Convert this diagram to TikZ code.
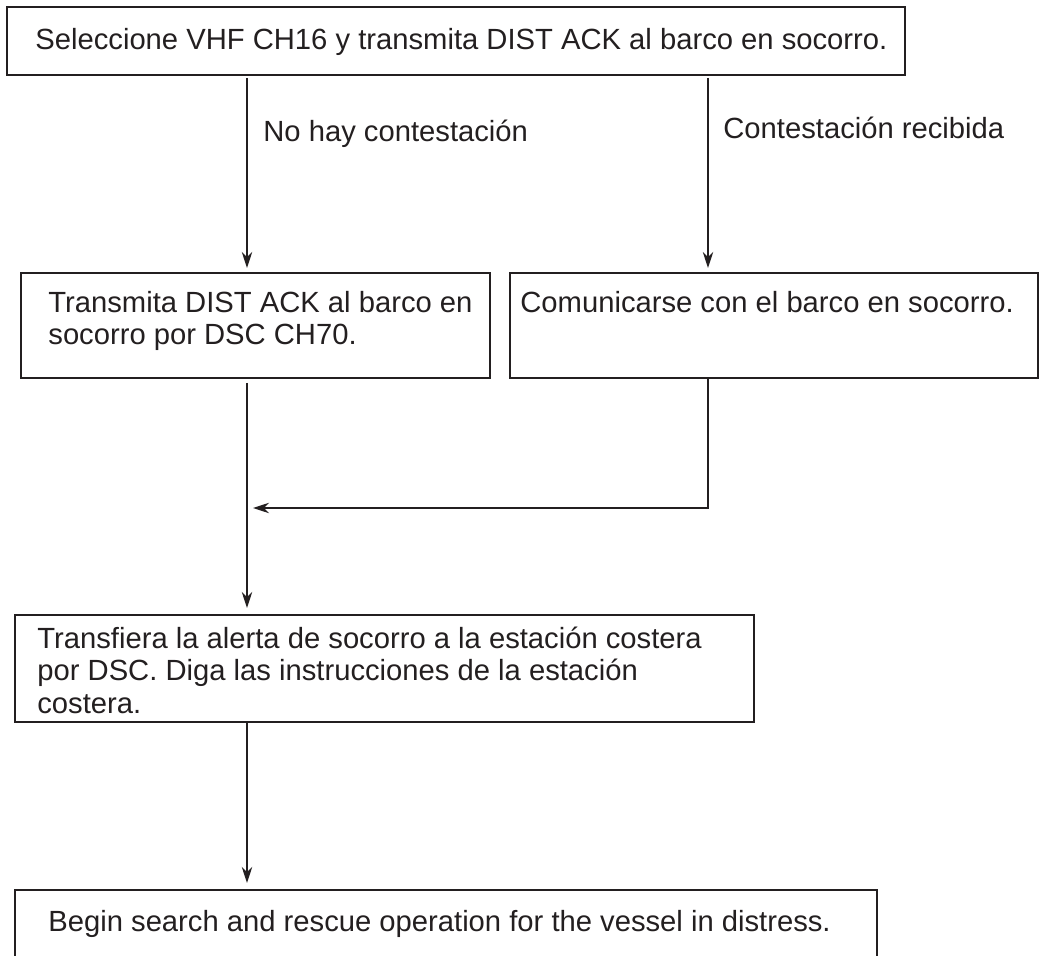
\documentclass[tikz,border=0pt]{standalone}
\usepackage{fontspec}
\setmainfont{Liberation Sans}
\usetikzlibrary{arrows.meta}
\definecolor{ink}{RGB}{35,31,32}
\tikzset{
  box/.style={draw=ink, line width=0.85pt, rectangle, outer sep=0pt, inner sep=0pt, anchor=north west},
  txt/.style={inner sep=0pt, anchor=base west, text=ink, align=left,
    font=\fontsize{14.6pt}{16.25pt}\selectfont},
  flow/.style={draw=ink, line width=0.7pt, -{Stealth[length=8pt,width=5.2pt,inset=2.6pt]}},
}
\begin{document}
\begin{tikzpicture}[x=0.5pt,y=-0.5pt]
\useasboundingbox (0,0) rectangle (1044,956);
\clip (0,0) rectangle (1044,956);
\fill[white] (0,0) rectangle (1044,956);

% boxes
\node[box, minimum width=449pt, minimum height=34pt] (top) at (7,7) {};
\node[box, minimum width=234.5pt, minimum height=52.5pt] (left2) at (21,273) {};
\node[box, minimum width=264pt, minimum height=52.5pt] (right2) at (510,273) {};
\node[box, minimum width=369.5pt, minimum height=53.5pt] (mid) at (15,615) {};
\node[box, minimum width=431pt, minimum height=60pt] (last) at (15,890) {};

% texts (multi-line nodes sit on the baseline of their last line)
\node[txt] (ttop) at (35,50) {Seleccione VHF CH16 y transmita DIST ACK al barco en socorro.};
\node[txt] (tno) at (263,142) {No hay contestación};
\node[txt] (tyes) at (723,139) {Contestación recibida};
\node[txt] (tleft2) at (48,345) {Transmita DIST ACK al barco en\\socorro por DSC CH70.};
\node[txt] (tright2) at (520,313) {Comunicarse con el barco en socorro.};
\node[txt] (tmid) at (37,713) {Transfiera la alerta de socorro a la estación costera\\por DSC. Diga las instrucciones de la estación\\costera.};
\node[txt] (tlast) at (48,931) {Begin search and rescue operation for the vessel in distress.};

% connectors
\coordinate (cl) at (247,0);
\coordinate (cr) at (708,0);
\coordinate (join) at (253,508);
\draw[flow, shorten <=1.5pt, shorten >=2.5pt] (top.south -| cl) -- (left2.north -| cl);
\draw[flow, shorten <=1.5pt, shorten >=2.5pt] (top.south -| cr) -- (right2.north -| cr);
\draw[flow, shorten <=2.5pt, shorten >=3.5pt] (left2.south -| cl) -- (mid.north -| cl);
\draw[flow] (right2.south -| cr) |- (join);
\draw[flow, shorten >=3.5pt] (mid.south -| cl) -- (last.north -| cl);
\end{tikzpicture}
\end{document}
